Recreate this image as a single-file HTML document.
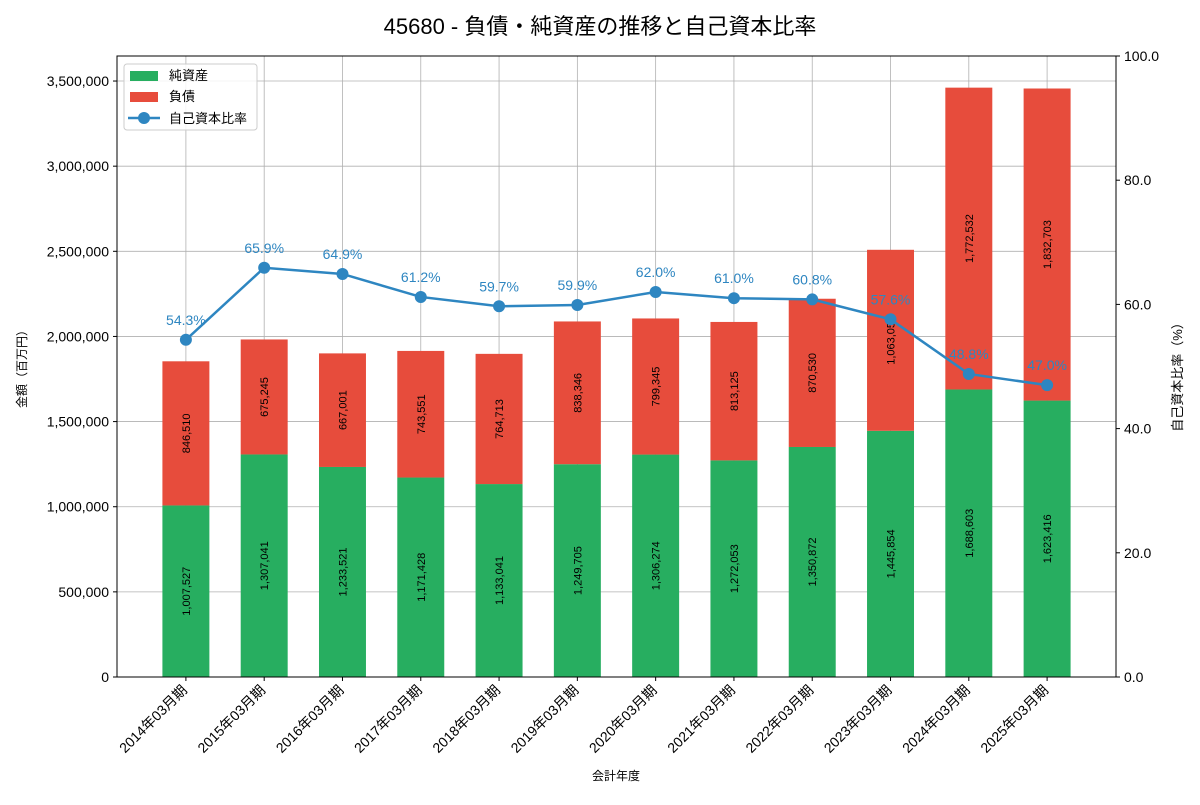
<!DOCTYPE html>
<html><head><meta charset="utf-8"><style>
body{margin:0;background:#fff;font-family:"Liberation Sans","Noto Sans CJK JP",sans-serif}
</style></head><body>
<svg id="c" width="1200" height="800" xmlns="http://www.w3.org/2000/svg" font-family="Liberation Sans, Noto Sans CJK JP, sans-serif"></svg>
<script>
const categories=["2014年03月期","2015年03月期","2016年03月期","2017年03月期","2018年03月期","2019年03月期","2020年03月期","2021年03月期","2022年03月期","2023年03月期","2024年03月期","2025年03月期"];
const equity=[1007527,1307041,1233521,1171428,1133041,1249705,1306274,1272053,1350872,1445854,1688603,1623416];
const liabilities=[846510,675245,667001,743551,764713,838346,799345,813125,870530,1063050,1772532,1832703];
const ratio=[54.3,65.9,64.9,61.2,59.7,59.9,62.0,61.0,60.8,57.6,48.8,47.0];
const leftTicks=[0,500000,1000000,1500000,2000000,2500000,3000000,3500000];
const rightTicks=[0,20,40,60,80,100];

const L=117,R=1116,T=56,B=677;
const yMax=3647000;
const x=i=>L+(i+0.88)*(R-L)/12.76;
const bw=0.6*(R-L)/12.76;
const yL=v=>B-v/yMax*(B-T);
const yR=v=>B-v/100*(B-T);
const svg=document.getElementById('c');
const NS="http://www.w3.org/2000/svg";
function el(tag,attrs,name,txt){const e=document.createElementNS(NS,tag);for(const k in attrs)e.setAttribute(k,attrs[k]);


if(txt!==undefined)e.textContent=txt;svg.appendChild(e);return e;}
const fmt=v=>v.toLocaleString('en-US');

el('text',{x:600,y:34,'text-anchor':'middle','font-size':22,fill:'#000'},'chart-title','45680 - 負債・純資産の推移と自己資本比率');
// grid
leftTicks.forEach(t=>el('line',{x1:L,x2:R,y1:yL(t),y2:yL(t),stroke:'#b0b0b0','stroke-width':0.8},'y-grid-line'));
categories.forEach((c,i)=>el('line',{x1:x(i),x2:x(i),y1:T,y2:B,stroke:'#b0b0b0','stroke-width':0.8},'x-grid-line'));
// bars
categories.forEach((c,i)=>{
 const e0=yL(equity[i]),e1=yL(equity[i]+liabilities[i]);
 el('rect',{x:x(i)-bw/2,y:e0,width:bw,height:B-e0,fill:'#27ae60'},'bar-equity');
 el('rect',{x:x(i)-bw/2,y:e1,width:bw,height:e0-e1,fill:'#e74c3c'},'bar-liabilities');
 const m1=(B+e0)/2,m2=(e0+e1)/2;
 el('text',{x:x(i)+4,y:m1,'text-anchor':'middle','font-size':11,transform:`rotate(-90 ${x(i)+4} ${m1})`},'equity-value-label',fmt(equity[i]));
 el('text',{x:x(i)+4,y:m2,'text-anchor':'middle','font-size':11,transform:`rotate(-90 ${x(i)+4} ${m2})`},'liabilities-value-label',fmt(liabilities[i]));
});
// line
el('polyline',{points:ratio.map((v,i)=>x(i)+','+yR(v)).join(' '),fill:'none',stroke:'#2e86c1','stroke-width':2.5},'ratio-line');
ratio.forEach((v,i)=>{
 el('circle',{cx:x(i),cy:yR(v),r:6,fill:'#2e86c1'},'ratio-point');
 el('text',{x:x(i),y:yR(v)-15,'text-anchor':'middle','font-size':14,fill:'#2e86c1'},'ratio-label',v.toFixed(1)+'%');
});
// axes frame
el('rect',{x:L,y:T,width:R-L,height:B-T,fill:'none',stroke:'#000','stroke-width':1},'plot-frame');
leftTicks.forEach(t=>{el('line',{x1:L-4,x2:L,y1:yL(t),y2:yL(t),stroke:'#000'},'y-tick');
 el('text',{x:L-8,y:yL(t)+5,'text-anchor':'end','font-size':14},'y-tick-label',fmt(t));});
rightTicks.forEach(t=>{el('line',{x1:R,x2:R+4,y1:yR(t),y2:yR(t),stroke:'#000'},'y2-tick');
 el('text',{x:R+8,y:yR(t)+5,'font-size':14},'y2-tick-label',t.toFixed(1));});
categories.forEach((c,i)=>{el('line',{x1:x(i),x2:x(i),y1:B,y2:B+4,stroke:'#000'},'x-tick');
 el('text',{x:x(i)+2,y:B+14,'text-anchor':'end','font-size':14,transform:`rotate(-45 ${x(i)+2} ${B+14})`},'x-tick-label',c);});
el('text',{x:616,y:780,'text-anchor':'middle','font-size':12},'x-axis-title','会計年度');
el('text',{x:26,y:366,'text-anchor':'middle','font-size':12,transform:'rotate(-90 26 366)'},'y-axis-title','金額（百万円）');
el('text',{x:1182,y:374,'text-anchor':'middle','font-size':13,transform:'rotate(-90 1182 374)'},'y2-axis-title','自己資本比率（%）');
// legend
el('rect',{x:124,y:64,width:133,height:66,rx:3,fill:'#fff','fill-opacity':0.85,stroke:'#ccc'},'legend-box');
el('rect',{x:130,y:71,width:28,height:10,fill:'#27ae60'},'legend-swatch-equity');
el('text',{x:169,y:80,'font-size':13},'legend-label-equity','純資産');
el('rect',{x:130,y:92,width:28,height:10,fill:'#e74c3c'},'legend-swatch-liabilities');
el('text',{x:169,y:101,'font-size':13},'legend-label-liabilities','負債');
el('line',{x1:128,x2:160,y1:118,y2:118,stroke:'#2e86c1','stroke-width':2.5},'legend-line-ratio');
el('circle',{cx:144,cy:118,r:6,fill:'#2e86c1'},'legend-marker-ratio');
el('text',{x:169,y:123,'font-size':13},'legend-label-ratio','自己資本比率');
</script>
</body></html>
